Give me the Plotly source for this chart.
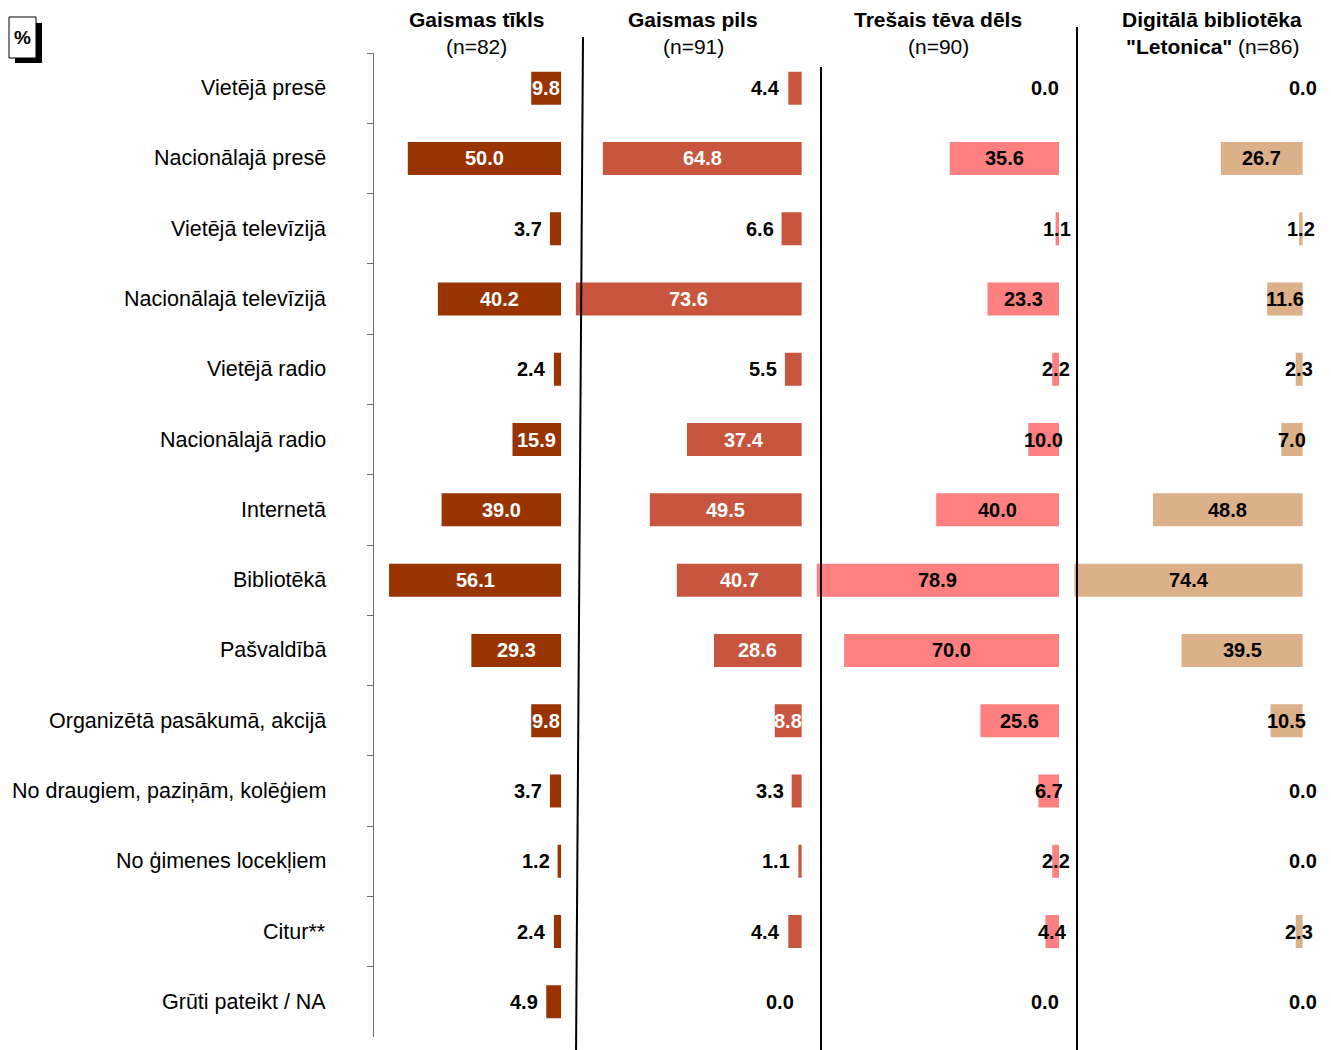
import plotly.graph_objects as go

categories = [
    "Vietējā presē", "Nacionālajā presē", "Vietējā televīzijā",
    "Nacionālajā televīzijā", "Vietējā radio", "Nacionālajā radio",
    "Internetā", "Bibliotēkā", "Pašvaldībā", "Organizētā pasākumā, akcijā",
    "No draugiem, paziņām, kolēģiem", "No ģimenes locekļiem", "Citur**",
    "Grūti pateikt / NA",
]

gaismas_tikls = [9.8, 50.0, 3.7, 40.2, 2.4, 15.9, 39.0, 56.1, 29.3, 9.8, 3.7, 1.2, 2.4, 4.9]
gaismas_pils = [4.4, 64.8, 6.6, 73.6, 5.5, 37.4, 49.5, 40.7, 28.6, 8.8, 3.3, 1.1, 4.4, 0.0]
tresais_teva_dels = [0.0, 35.6, 1.1, 23.3, 2.2, 10.0, 40.0, 78.9, 70.0, 25.6, 6.7, 2.2, 4.4, 0.0]
letonica = [0.0, 26.7, 1.2, 11.6, 2.3, 7.0, 48.8, 74.4, 39.5, 10.5, 0.0, 0.0, 2.3, 0.0]

header_line1 = ["<b>Gaismas tīkls</b>", "<b>Gaismas pils</b>",
                "<b>Trešais tēva dēls</b>", "<b>Digitālā bibliotēka</b>"]
header_line2 = ["(n=82)", "(n=91)", "(n=90)", "<b>\"Letonica\"</b> (n=86)"]

series = [gaismas_tikls, gaismas_pils, tresais_teva_dels, letonica]
colors = ["#993300", "#C8553D", "#FF8080", "#DCB088"]

W, H = 1331, 1050
OFF = 8                           # page body margin
FONT = "Liberation Sans, Arial, sans-serif"
SCALE = 3.07                      # px per percent
zero_px = [561.3, 801.8, 1059.0, 1302.8]
range_max = [62, 75, 80, 78]
header_cx = [476, 693, 938, 1212]


def px(x):
    return (x - OFF) / W


def py(y):
    return 1 - (y - OFF) / H


fig = go.Figure()
layout_axes = {}
annotations = []

for i, vals in enumerate(series):
    axname = "x" if i == 0 else f"x{i+1}"
    fig.add_trace(go.Bar(
        x=vals, y=categories, orientation="h",
        marker=dict(color=colors[i], line=dict(width=0)),
        width=0.47, xaxis=axname, yaxis="y", hoverinfo="x+y",
        showlegend=False,
    ))
    dom0 = px(zero_px[i] - range_max[i] * SCALE)
    dom1 = px(zero_px[i])
    key = "xaxis" if i == 0 else f"xaxis{i+1}"
    layout_axes[key] = dict(domain=[dom0, dom1], range=[range_max[i], 0],
                            visible=False, anchor="y", fixedrange=True)

    for cat, v in zip(categories, vals):
        txt = f"<b>{v:.1f}</b>"
        if i in (0, 1):
            threshold = 9 if i == 0 else 8
            if v >= threshold:
                annotations.append(dict(x=v / 2, y=cat, xref=axname, yref="y",
                                        text=txt, showarrow=False,
                                        font=dict(family=FONT, size=20, color="white"),
                                        xanchor="center", yanchor="middle"))
            else:
                annotations.append(dict(x=v, y=cat, xref=axname, yref="y",
                                        text=txt, showarrow=False,
                                        font=dict(family=FONT, size=20, color="black"),
                                        xanchor="right", yanchor="middle", xshift=-6))
        else:
            shift = -14 if (i == 2 and v == 0) else 0
            annotations.append(dict(x=v / 2, y=cat, xref=axname, yref="y",
                                    text=txt, showarrow=False,
                                    font=dict(family=FONT, size=20, color="black"),
                                    xanchor="center", yanchor="middle", xshift=shift))

# category labels
for cat in categories:
    annotations.append(dict(x=px(328), y=cat, xref="paper", yref="y", text=cat,
                            showarrow=False, xanchor="right", yanchor="middle",
                            font=dict(family=FONT, size=21.5, color="black")))

# headers
for i in range(4):
    annotations.append(dict(x=px(header_cx[i]), y=py(19), xref="paper", yref="paper",
                            text=header_line1[i], showarrow=False,
                            xanchor="center", yanchor="middle",
                            font=dict(family=FONT, size=21, color="black")))
    annotations.append(dict(x=px(header_cx[i]), y=py(46), xref="paper", yref="paper",
                            text=header_line2[i], showarrow=False,
                            xanchor="center", yanchor="middle",
                            font=dict(family=FONT, size=21, color="black")))

# % box
annotations.append(dict(x=px(22.5), y=py(37), xref="paper", yref="paper",
                        text="<b>%</b>", showarrow=False, xanchor="center",
                        yanchor="middle", font=dict(family=FONT, size=19, color="black")))

shapes = [
    dict(type="rect", xref="paper", yref="paper", x0=px(15), x1=px(42),
         y0=py(63), y1=py(23), fillcolor="black", line=dict(width=0), layer="below"),
    dict(type="rect", xref="paper", yref="paper", x0=px(9), x1=px(36),
         y0=py(58), y1=py(17), fillcolor="white", line=dict(color="black", width=1),
         layer="below"),
    dict(type="line", xref="paper", yref="paper", x0=px(583), y0=py(37),
         x1=px(576), y1=py(1058), line=dict(color="black", width=2)),
    dict(type="line", xref="paper", yref="paper", x0=px(821), y0=py(67),
         x1=px(821), y1=py(1058), line=dict(color="black", width=2)),
    dict(type="line", xref="paper", yref="paper", x0=px(1077), y0=py(27),
         x1=px(1077), y1=py(1058), line=dict(color="black", width=2)),
]

fig.update_layout(
    width=W, height=H,
    margin=dict(l=0, r=0, t=0, b=0),
    paper_bgcolor="white", plot_bgcolor="white",
    font=dict(family=FONT, size=20, color="black"),
    bargap=0.5,
    yaxis=dict(
        type="category", categoryorder="array", categoryarray=categories,
        range=[13.5, -0.5], domain=[py(1037), py(53)],
        anchor="free", position=px(373), side="left",
        showline=True, linecolor="#707070", linewidth=1,
        ticks="outside", tickson="boundaries", ticklen=6, tickcolor="#707070",
        showticklabels=False, showgrid=False, zeroline=False, fixedrange=True,
    ),
    annotations=annotations,
    shapes=shapes,
    **layout_axes,
)

fig.write_html("out.html")
